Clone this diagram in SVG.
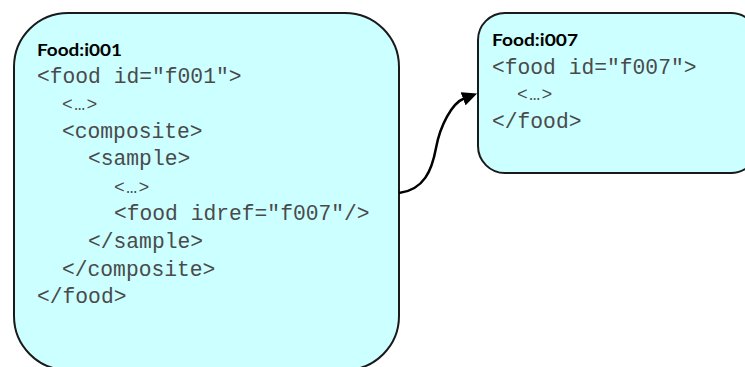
<svg xmlns="http://www.w3.org/2000/svg" width="745" height="367" viewBox="0 0 745 367">
  <style>
    .box { fill: #ccffff; stroke: #1a1a1a; stroke-width: 2; }
    .title { font-family: Lato, "Liberation Sans", sans-serif; font-weight: bold; font-size: 17.5px; fill: #000000; }
    .code { font-family: "Liberation Mono", "DejaVu Sans Mono", monospace; font-size: 21.3px; fill: #4a4a4a; }
    .ell { font-family: "Liberation Mono", "DejaVu Sans Mono", monospace; font-size: 18px; letter-spacing: 1.5px; fill: #4a4a4a; }
    .link { fill: none; stroke: #000000; stroke-width: 2.5; }
  </style>
  <defs>
    <marker id="arrow" markerUnits="userSpaceOnUse" markerWidth="15" markerHeight="14" viewBox="0 0 15 14" refX="1" refY="7" orient="auto">
      <path d="M0,0 L15,7 L0,14 z" fill="#000000"/>
    </marker>
  </defs>

  <rect width="745" height="367" fill="#ffffff"/>

  <g id="food-i001">
    <rect class="box" x="14" y="13" width="385" height="357" rx="54" ry="54"/>
    <text class="title" x="37" y="56" textLength="85" lengthAdjust="spacingAndGlyphs">Food:i001</text>
    <text class="code" x="37" y="83">&lt;food id="f001"&gt;</text>
    <text class="ell" x="62" y="110">&lt;…&gt;</text>
    <text class="code" x="62" y="138">&lt;composite&gt;</text>
    <text class="code" x="88" y="165">&lt;sample&gt;</text>
    <text class="ell" x="114" y="193">&lt;…&gt;</text>
    <text class="code" x="114" y="220">&lt;food idref="f007"/&gt;</text>
    <text class="code" x="88" y="248">&lt;/sample&gt;</text>
    <text class="code" x="62" y="276">&lt;/composite&gt;</text>
    <text class="code" x="37" y="303">&lt;/food&gt;</text>
  </g>

  <g id="food-i007">
    <rect class="box" x="478" y="13" width="280" height="160" rx="27" ry="27"/>
    <text class="title" x="492" y="46" textLength="86" lengthAdjust="spacingAndGlyphs">Food:i007</text>
    <text class="code" x="492" y="74">&lt;food id="f007"&gt;</text>
    <text class="ell" x="517" y="100">&lt;…&gt;</text>
    <text class="code" x="492" y="128">&lt;/food&gt;</text>
  </g>

  <g id="connectors">
    <path class="link" d="M399,193 C424,190 432,170 436,148 C440,126 452,103 464,98.5" marker-end="url(#arrow)"/>
  </g>
</svg>
